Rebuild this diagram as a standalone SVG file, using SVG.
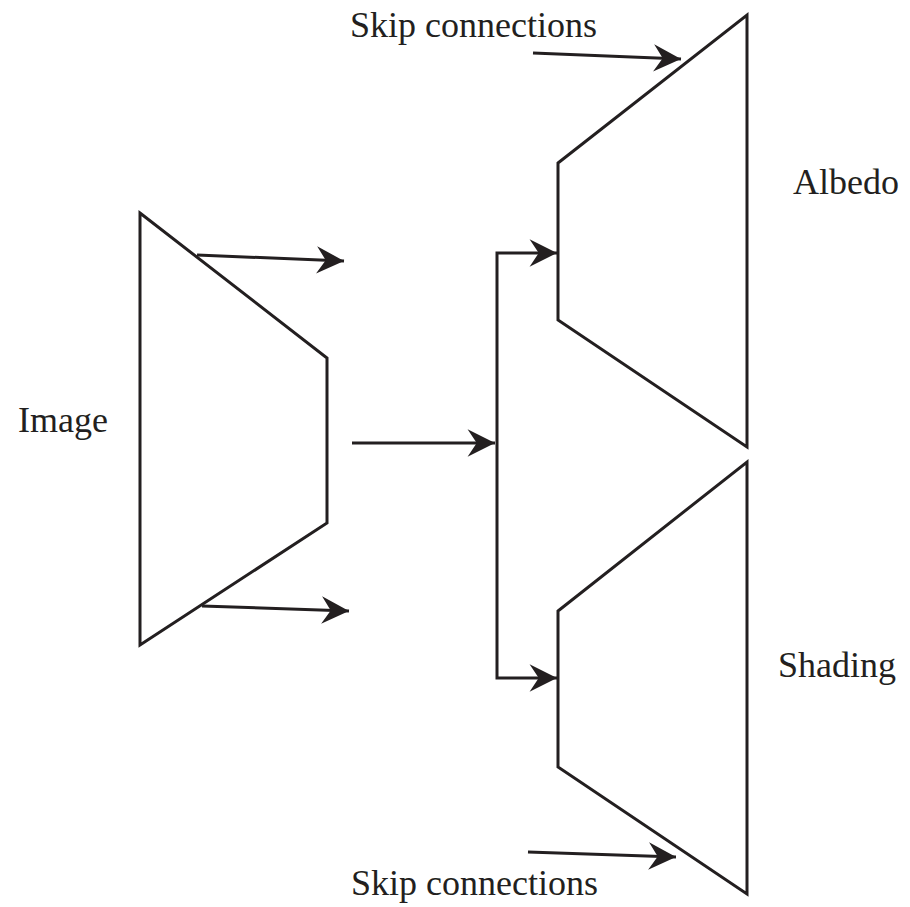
<svg xmlns="http://www.w3.org/2000/svg" width="910" height="907" viewBox="0 0 910 907">
<style>
.shape{fill:none;stroke:#231f20;stroke-width:3;stroke-linejoin:miter}
.conn{fill:none;stroke:#231f20;stroke-width:3}
.lbl{font-family:"Liberation Serif","Times New Roman",serif;font-size:36px;fill:#231f20}
</style>
<defs>
<marker id="ah" markerUnits="userSpaceOnUse" markerWidth="32" markerHeight="32" viewBox="-26 -13 28 26" refX="0" refY="0" orient="auto">
<path d="M0,0 L-24,-12 L-16,0 L-24,12 Z" fill="#231f20"/>
</marker>
</defs>
<rect width="910" height="907" fill="#fff"/>
<g id="encoder">
<polygon class="shape" points="140,213 327,358 327,523 140,645"/>
</g>
<g id="albedo-decoder">
<polygon class="shape" points="558,163 747,15 747,447 558,320"/>
</g>
<g id="shading-decoder">
<polygon class="shape" points="558,611 747,462 747,894 558,767"/>
</g>
<g id="connectors">
<path class="conn" d="M197,255 L344,261" marker-end="url(#ah)"/>
<path class="conn" d="M202,606 L349,611" marker-end="url(#ah)"/>
<path class="conn" d="M352,443 L495,443" marker-end="url(#ah)"/>
<path class="conn" d="M497,443 L497,253 L557,253" marker-end="url(#ah)"/>
<path class="conn" d="M497,443 L497,678 L557,678" marker-end="url(#ah)"/>
<path class="conn" d="M533,53 L681,59" marker-end="url(#ah)"/>
<path class="conn" d="M528,852 L676,857" marker-end="url(#ah)"/>
</g>
<g id="labels">
<text class="lbl" x="350" y="37">Skip connections</text>
<text class="lbl" x="351" y="895">Skip connections</text>
<text class="lbl" x="793" y="194">Albedo</text>
<text class="lbl" x="778" y="677">Shading</text>
<text class="lbl" x="18" y="432">Image</text>
</g>
</svg>
